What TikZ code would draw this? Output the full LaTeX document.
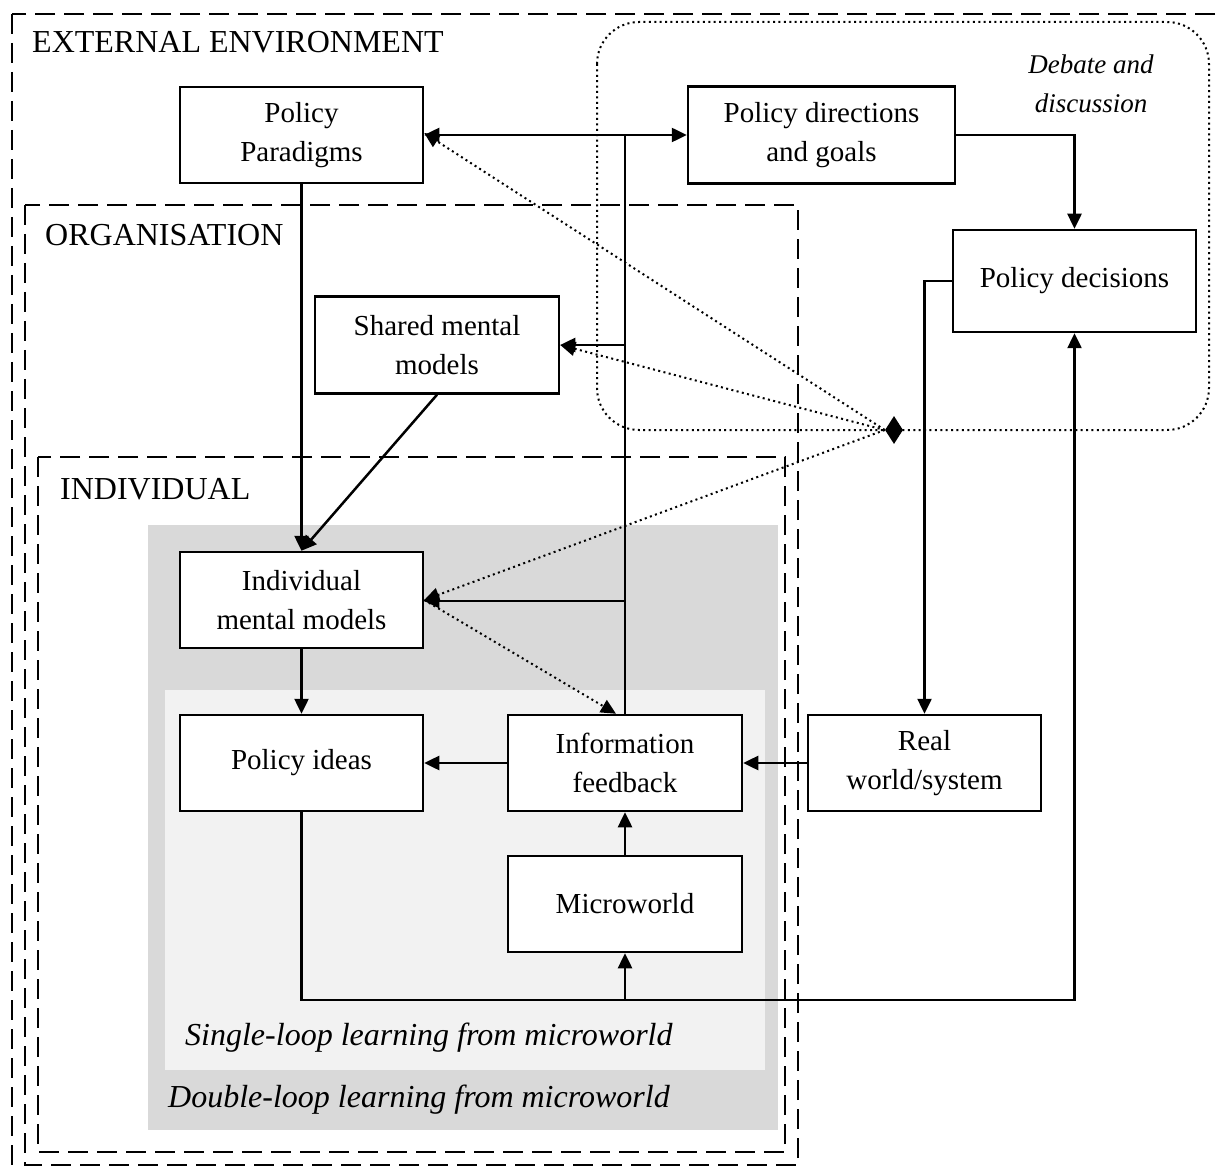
\documentclass[tikz,border=0pt]{standalone}
\usepackage{fontspec}
\setmainfont{Liberation Serif}
\usetikzlibrary{arrows.meta,shapes.geometric}
\definecolor{doubleloop}{HTML}{D9D9D9}
\definecolor{singleloop}{HTML}{F2F2F2}
\begin{document}
\begin{tikzpicture}[x=1pt,y=-1pt,
  every node/.style={font=\fontsize{29}{39}\selectfont},
  box/.style={draw, line width=2.5pt, fill=white, align=center, inner sep=0pt},
  arr/.style={line width=2.5pt, -{Triangle[length=15pt,width=14pt]}},
  biarr/.style={line width=2.5pt, {Triangle[length=15pt,width=14pt]}-{Triangle[length=15pt,width=14pt]}},
  link/.style={line width=2.5pt},
  dotline/.style={line width=2pt, dash pattern=on 2pt off 3.4pt},
  dotarr/.style={dotline, -{Triangle[length=15pt,width=14pt]}},
  zone/.style={line width=2.5pt, dash pattern=on 20pt off 9pt},
  zonelabel/.style={anchor=base west, inner sep=0pt, font=\fontsize{32}{39}\selectfont},
  looplabel/.style={anchor=west, inner sep=0pt, font=\fontsize{32}{39}\selectfont\itshape},
  ]
\useasboundingbox (0,0) rectangle (1216,1174);

% learning-loop backgrounds
\fill[doubleloop] (148,525) rectangle (778,1130);
\fill[singleloop] (165,690) rectangle (765,1070);
\node[looplabel] (single) at (185,1038) {Single-loop learning from microworld};
\node[looplabel] (double) at (168,1100) {Double-loop learning from microworld};

% nested environments
\draw[zone] (12,14) rectangle (1240,1200);
\draw[zone] (25,205) rectangle (798,1165);
\draw[zone] (38,457) rectangle (785,1152);
\node[zonelabel] (extlbl) at (32,53) {EXTERNAL ENVIRONMENT};
\node[zonelabel] (orglbl) at (45,246) {ORGANISATION};
\node[zonelabel] (indlbl) at (60,499) {INDIVIDUAL};

% debate and discussion area
\draw[dotline, rounded corners=42pt] (597,22) rectangle (1209,430);
\node[align=center, font=\fontsize{27}{39}\selectfont\itshape] (debate) at (1091,84) {Debate and\\discussion};

% boxes
\node[box, minimum width=243pt, minimum height=96pt] (pp) at (301.5,135) {Policy\\Paradigms};
\node[box, minimum width=267pt, minimum height=97pt] (pd) at (821.5,135) {Policy directions\\and goals};
\node[box, minimum width=243pt, minimum height=102pt] (pdec) at (1074.5,281) {Policy decisions};
\node[box, minimum width=244pt, minimum height=97pt] (smm) at (437,345) {Shared mental\\models};
\node[box, minimum width=243pt, minimum height=96pt] (imm) at (301.5,600) {Individual\\mental models};
\node[box, minimum width=243pt, minimum height=96pt] (pi) at (301.5,763) {Policy ideas};
\node[box, minimum width=234pt, minimum height=96pt] (if) at (625,763) {Information\\feedback};
\node[box, minimum width=233pt, minimum height=96pt] (rw) at (924.5,763) {Real\\world/system};
\node[box, minimum width=234pt, minimum height=96pt] (mw) at (625,904) {Microworld};

% junctions
\coordinate (top) at (pp.east -| if.north);
\coordinate (loopy) at (0,1000);

% information feedback rising to the upper levels
\draw[link] (if.north) -- (top);
\draw[biarr] (pp.east) -- (pd.west);
\draw[arr] (smm.east -| if.north) -- (smm.east);
\draw[arr] ([yshift=-1pt]imm.east -| if.north) -- ([yshift=-1pt]imm.east);

% policy cycle
\draw[arr] (pd.east) -| (pdec.north);
\draw[arr] (pdec.west) -| (rw.north);
\draw[arr] (rw.west) -- (if.east);
\draw[arr] (if.west) -- (pi.east);
\draw[arr] (mw.north) -- (if.south);
\draw[arr] (pp.south) -- (imm.north);
\draw[arr] (smm.south) -- (imm.north);
\draw[arr] (imm.south) -- (pi.north);
\draw[arr] (pi.south) -- (pi.south |- loopy) -- (pdec.south |- loopy) -- (pdec.south);
\draw[arr] (mw.south |- loopy) -- (mw.south);

% debate influences
\node[diamond, fill=black, minimum width=18pt, minimum height=28pt, inner sep=0pt] (dm) at (894,430) {};
\draw[dotarr] (dm.west) -- ([yshift=2pt]pp.east);
\draw[dotarr] (dm.west) -- (smm.east);
\draw[dotarr] (dm.west) -- (imm.east);
\draw[dotarr] (imm.east) -- ([xshift=-9pt]if.north);
\end{tikzpicture}
\end{document}
